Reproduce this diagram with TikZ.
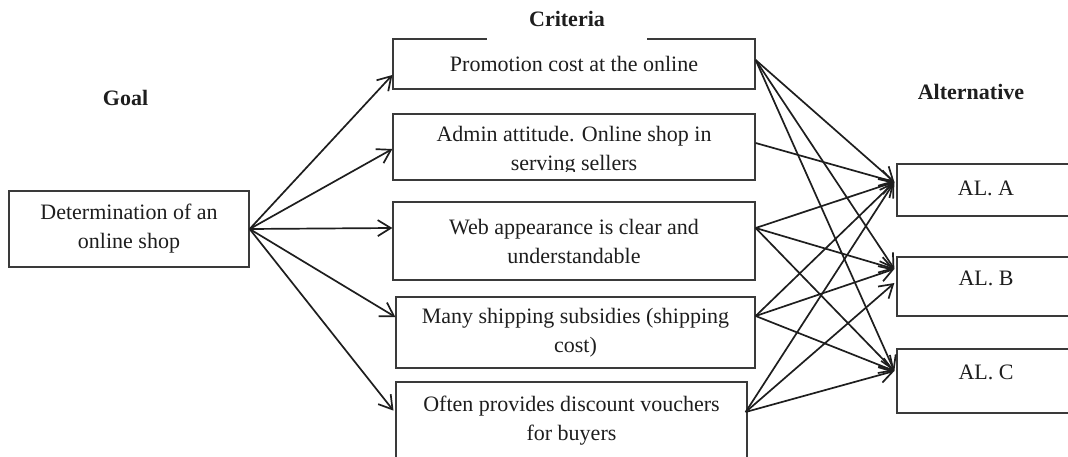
\documentclass[tikz,border=0pt]{standalone}
\usepackage{fontspec}
\setmainfont{Liberation Serif}
\usetikzlibrary{arrows.meta}
\definecolor{boxline}{HTML}{3A3A3A}
\definecolor{ink}{HTML}{1E1E1E}
\begin{document}
\begin{tikzpicture}[x=1pt,y=-1pt,
  every node/.style={font=\fontsize{22}{29}\selectfont, text=ink},
  box/.style={draw=boxline, line width=1.3pt, rectangle, inner sep=0pt, align=center},
  head/.style={font=\fontsize{22}{29}\selectfont\bfseries, text=ink},
  arr/.style={draw=ink, line width=1.7pt, -{Straight Barb[length=13pt,width=16pt]}}
]
\useasboundingbox (0,0) rectangle (1068,457);
\fill[white] (0,0) rectangle (1068,457);

% headings
\node[head] (goallbl) at (125.5,97.5) {Goal};
\node[head] (altlbl) at (971,92) {Alternative};

% goal
\node[box, minimum width=240pt, minimum height=76pt] (goal) at (129,229)
  {Determination of an\\online shop};

% criteria
\node[box, minimum width=362pt, minimum height=50pt] (c1) at (574,64)
  {Promotion cost at the online};
\node[box, minimum width=362pt, minimum height=66pt] (c2) at (574,147) {};
\begin{scope}
  \clip (393,114) rectangle (755,172);
  \node[align=center] (t2) at (574,150.5) {Admin attitude. Online shop in\\serving sellers};
\end{scope}
\node[box, minimum width=362pt, minimum height=78pt] (c3) at (574,241)
  {Web appearance is clear and\\understandable};
\node[box, minimum width=359pt, minimum height=71pt] (c4) at (575.5,332.5)
  {Many shipping subsidies (shipping\\cost)};
\node[box, minimum width=351pt, minimum height=77pt] (c5) at (571.5,420.5)
  {Often provides discount vouchers\\for buyers};

% white label covering part of the top border of c1
\node[head, fill=white, minimum width=160pt, minimum height=44pt, inner sep=0pt] (critlbl) at (567,19) {Criteria};

% alternatives
\node[box, minimum width=178pt, minimum height=52pt, text depth=4pt] (A) at (986,190) {AL. A};
\node[box, minimum width=178pt, minimum height=59pt, text depth=16pt] (B) at (986,286.5) {AL. B};
\node[box, minimum width=178pt, minimum height=64pt, text depth=17pt] (C) at (986,381) {AL. C};

% goal -> criteria
\draw[arr] (goal.east) -- ([yshift=-11pt]c1.west);
\draw[arr] (goal.east) -- ([yshift=-2pt]c2.west);
\draw[arr] (goal.east) -- ([yshift=13pt]c3.west);
\draw[arr] (goal.east) -- ([yshift=15.5pt]c4.west);
\draw[arr, shorten >=3pt] (goal.east) -- ([yshift=7.5pt]c5.west);

% criteria -> alternatives
\coordinate (a1) at ([yshift=8pt,xshift=-2pt]A.west);
\coordinate (b1) at ([yshift=17.5pt,xshift=-2pt]B.west);
\coordinate (b2) at ([yshift=3.5pt,xshift=-2pt]B.west);
\coordinate (cc) at ([yshift=10pt,xshift=-2pt]C.west);

\draw[arr] ([yshift=4pt]c1.east) -- (a1);
\draw[arr] ([yshift=4pt]c1.east) -- (b1);
\draw[arr] ([yshift=4pt]c1.east) -- (cc);
\draw[arr] ([yshift=4pt]c2.east) -- (a1);
\draw[arr] ([yshift=13pt]c3.east) -- (a1);
\draw[arr] ([yshift=13pt]c3.east) -- (b1);
\draw[arr] ([yshift=13pt]c3.east) -- (cc);
\draw[arr] ([yshift=16.5pt]c4.east) -- (a1);
\draw[arr] ([yshift=16.5pt]c4.east) -- (b1);
\draw[arr] ([yshift=16.5pt]c4.east) -- (cc);
\draw[arr] ([yshift=8.5pt,xshift=-2pt]c5.east) -- (a1);
\draw[arr] ([yshift=8.5pt,xshift=-2pt]c5.east) -- (b2);
\draw[arr] ([yshift=8.5pt,xshift=-2pt]c5.east) -- (cc);
\end{tikzpicture}
\end{document}
